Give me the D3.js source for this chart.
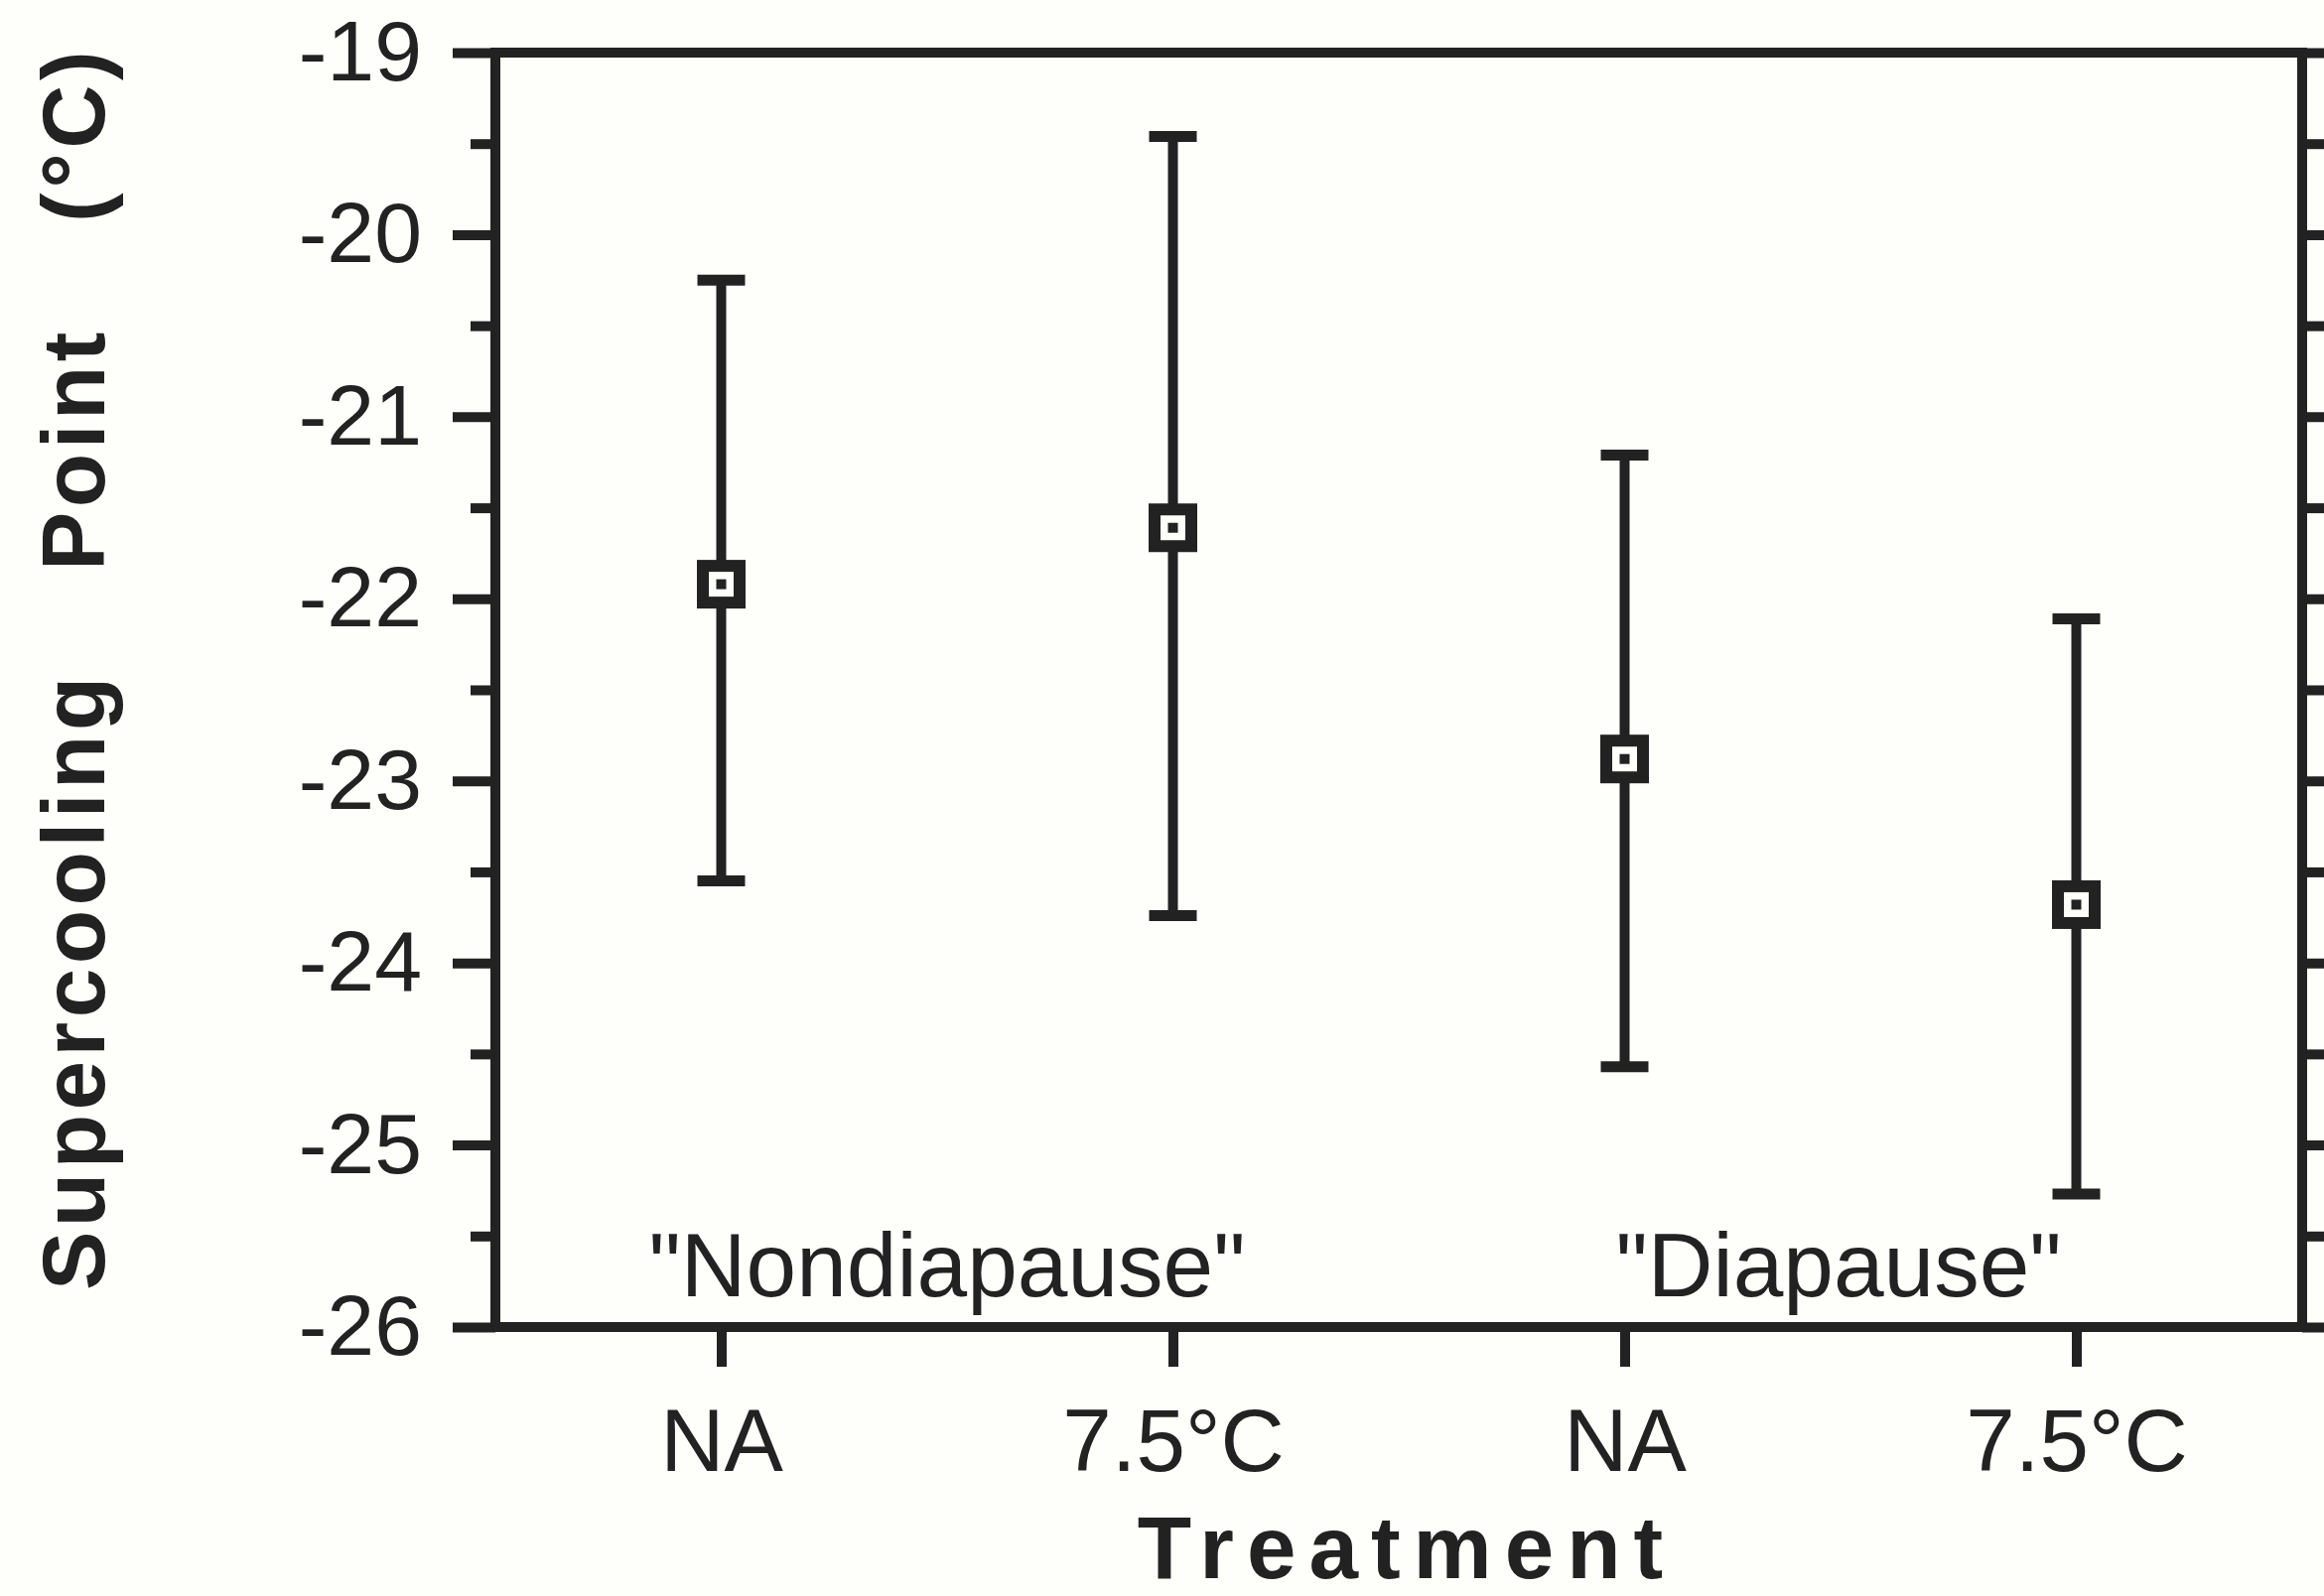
<!DOCTYPE html>
<html>
<head>
<meta charset="utf-8">
<script src="https://cdn.jsdelivr.net/npm/d3@7"></script>
<style>
  html, body { margin: 0; padding: 0; background: #fefefb; }
  svg { display: block; }
  text { font-family: "Liberation Sans", Arial, Helvetica, sans-serif; fill: #222; }
</style>
</head>
<body>
<svg id="chart" width="2341" height="1608"></svg>
<script>
// ---- data ----
const categories = ["NA", "7.5°C", "NA", "7.5°C"];
const groups = ["\"Nondiapause\"", "\"Diapause\""];
const means = [-21.92, -21.61, -22.88, -23.68];
const upper = [-20.25, -19.46, -21.21, -22.11];
const lower = [-23.55, -23.74, -24.57, -25.27];
const yMajorTicks = [-26, -25, -24, -23, -22, -21, -20, -19];
const yMinorTicks = [-25.5, -24.5, -23.5, -22.5, -21.5, -20.5, -19.5];
const yTitleWords = ["Supercooling", "Point", "(°C)"];
const xTitle = "Treatment";

// ---- layout ----
const INK = "#222";
const BG = "#fefefb";
const plotL = 499, plotR = 2319, plotT = 53, plotB = 1337;
const svg = d3.select("#chart");

const idx = categories.map((d, i) => i);
const x = d3.scalePoint().domain(idx).range([plotL, plotR]).padding(0.5);
const y = d3.scaleLinear().domain([-26, -19]).range([plotB, plotT]);

// frame
svg.append("rect")
  .attr("x", plotL).attr("y", plotT)
  .attr("width", plotR - plotL).attr("height", plotB - plotT)
  .attr("fill", "none").attr("stroke", INK).attr("stroke-width", 10);

function styleAxis(g) {
  g.select(".domain").remove();
  g.selectAll(".tick line").attr("stroke", INK).attr("stroke-width", 10);
  g.selectAll(".tick text").attr("fill", INK);
}

// left axis major
svg.append("g").attr("transform", `translate(${plotL},0)`)
  .call(d3.axisLeft(y).tickValues(yMajorTicks).tickSize(43).tickPadding(31).tickFormat(d => String(d)))
  .call(styleAxis)
  .call(g => g.selectAll("text").attr("font-size", 86).attr("font-family", "Liberation Sans, Arial, sans-serif"));
// left axis minor
svg.append("g").attr("transform", `translate(${plotL},0)`)
  .call(d3.axisLeft(y).tickValues(yMinorTicks).tickSize(25).tickFormat(""))
  .call(styleAxis);
// right axis major + minor (outward)
svg.append("g").attr("transform", `translate(${plotR},0)`)
  .call(d3.axisRight(y).tickValues(yMajorTicks).tickSize(43).tickFormat(""))
  .call(styleAxis);
svg.append("g").attr("transform", `translate(${plotR},0)`)
  .call(d3.axisRight(y).tickValues(yMinorTicks).tickSize(25).tickFormat(""))
  .call(styleAxis);

// bottom axis
svg.append("g").attr("transform", `translate(0,${plotB})`)
  .call(d3.axisBottom(x).tickSize(40).tickPadding(42).tickFormat(i => categories[i]))
  .call(styleAxis)
  .call(g => g.selectAll("text").attr("font-size", 89).attr("font-family", "Liberation Sans, Arial, sans-serif"));

// group labels inside plot
[[0, 1], [2, 3]].forEach((pair, gi) => {
  svg.append("text")
    .attr("x", (x(pair[0]) + x(pair[1])) / 2 - (gi === 1 ? 12 : 0))
    .attr("y", 1306)
    .attr("text-anchor", "middle")
    .attr("font-size", 91)
    .text(groups[gi]);
});

// error bars
const capW = 48;
const bars = svg.append("g");
idx.forEach(i => {
  const cx = x(i);
  bars.append("line")
    .attr("x1", cx).attr("x2", cx)
    .attr("y1", y(upper[i])).attr("y2", y(lower[i]))
    .attr("stroke", INK).attr("stroke-width", 10);
  [upper[i], lower[i]].forEach(v => {
    bars.append("line")
      .attr("x1", cx - capW / 2).attr("x2", cx + capW / 2)
      .attr("y1", y(v)).attr("y2", y(v))
      .attr("stroke", INK).attr("stroke-width", 11);
  });
  // square marker
  const s = 37;
  bars.append("rect")
    .attr("x", cx - s / 2).attr("y", y(means[i]) - s / 2)
    .attr("width", s).attr("height", s)
    .attr("fill", BG).attr("stroke", INK).attr("stroke-width", 12);
  bars.append("rect")
    .attr("x", cx - 5).attr("y", y(means[i]) - 5)
    .attr("width", 10).attr("height", 10)
    .attr("fill", INK);
});

// y title (rotated words)
const yWordStarts = [1300, 575, 224];
yTitleWords.forEach((w, i) => {
  svg.append("text")
    .attr("transform", `translate(105,${yWordStarts[i]}) rotate(-90)`)
    .attr("text-anchor", "start")
    .attr("font-size", 89)
    .attr("font-weight", "bold")
    .attr("letter-spacing", 4.5)
    .text(w);
});

// x title
svg.append("text")
  .attr("x", 1411 + 6)
  .attr("y", 1590)
  .attr("text-anchor", "middle")
  .attr("font-size", 89)
  .attr("font-weight", "bold")
  .attr("letter-spacing", 13)
  .text(xTitle);
</script>
</body>
</html>
